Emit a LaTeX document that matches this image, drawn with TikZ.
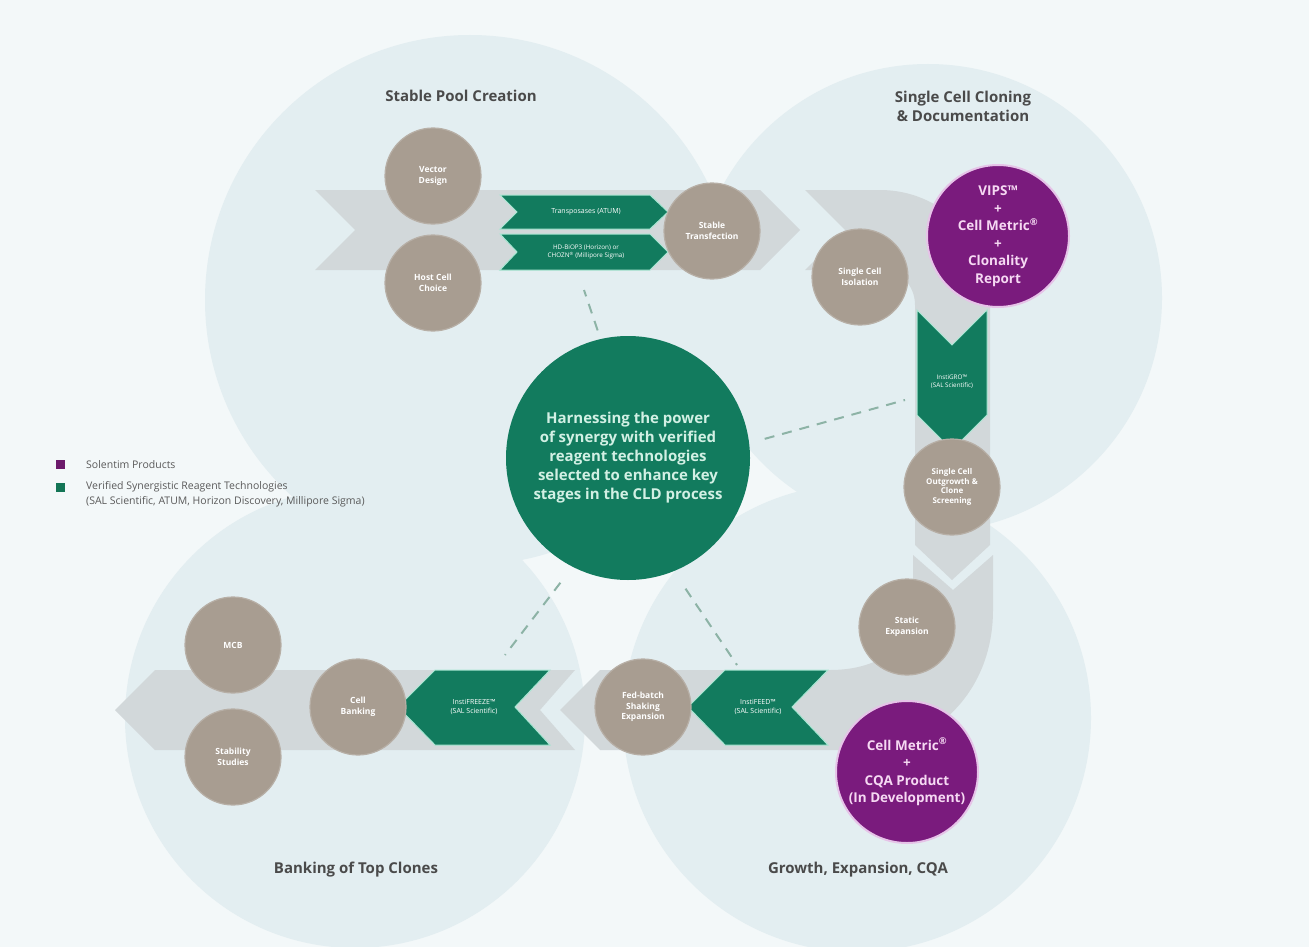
\documentclass[tikz,border=0pt]{standalone}
\usepackage{fontspec}
\setmainfont{Open Sans}
\usetikzlibrary{calc}

\definecolor{bgcol}{HTML}{F3F8F9}
\definecolor{zonecol}{HTML}{E3EEF1}
\definecolor{bandgray}{HTML}{D2D8DA}
\definecolor{taupe}{HTML}{A89D91}
\definecolor{taupeedge}{HTML}{B7AFA6}
\definecolor{reagentgreen}{HTML}{127B5E}
\definecolor{mint}{HTML}{A9E6D2}
\definecolor{purp}{HTML}{7A1B7D}
\definecolor{purpedge}{HTML}{E6C3E8}
\definecolor{pinktext}{HTML}{F6D9F3}
\definecolor{titlegray}{HTML}{4A4A4A}
\definecolor{legendgray}{HTML}{5A5A5A}
\definecolor{centretext}{HTML}{D2F0E4}
\definecolor{dashcol}{HTML}{8DB3A6}
\definecolor{legpurple}{HTML}{6B1A6B}
\definecolor{leggreen}{HTML}{137556}

\tikzset{
  zone/.style={fill=zonecol},
  band/.style={fill=bandgray},
  stepnode/.style={circle, fill=taupe, draw=taupeedge, line width=1.2pt,
    minimum size=96pt, inner sep=0pt, align=center, text=white,
    font=\fontsize{8.5}{10.5}\selectfont\bfseries},
  prodnode/.style={circle, fill=purp, draw=purpedge, line width=2pt,
    minimum size=142pt, inner sep=0pt, align=center, text=pinktext,
    font=\fontsize{13.5}{17.5}\selectfont\bfseries},
  reagent/.style={fill=reagentgreen, draw=mint, line width=1pt},
  reagtext/.style={text=white, font=\fontsize{7}{8.5}\selectfont,
    align=center, inner sep=0pt},
  zonetitle/.style={text=titlegray, font=\fontsize{15}{19}\selectfont\bfseries,
    align=center},
  legendtext/.style={text=legendgray, font=\fontsize{10.5}{15.5}\selectfont,
    align=left, anchor=west, inner sep=0pt},
  dashlink/.style={draw=dashcol, line width=2pt, dash pattern=on 10pt off 8pt}
}

\begin{document}
\begin{tikzpicture}[x=1pt, y=-1pt]
\useasboundingbox (0,0) rectangle (1309,947);
\fill[bgcol] (0,0) rectangle (1309,947);

% the four stage zones
\fill[zone] (470,300) circle[radius=265pt];
\fill[zone] (928,298) circle[radius=234pt];
\fill[zone] (355,718) circle[radius=230pt];
\fill[zone] (857,718) circle[radius=234pt];

% process bands
\fill[band] (315,190) -- (760,190) -- (800,230) -- (760,270) -- (315,270) -- (355,230) -- cycle;
\fill[band] (805,190) -- (880,190) .. controls (941,190) and (990,239) .. (990,300)
  -- (990,545) -- (952,580) -- (915,545) -- (915,305)
  .. controls (915,285) and (900,270) .. (880,270) -- (805,270) -- (845,230) -- cycle;
\fill[band] (913,555) -- (953,590) -- (993,555) -- (993,610)
  .. controls (993,695) and (930,750) .. (860,750) -- (600,750) -- (560,710) -- (600,670)
  -- (830,670) .. controls (880,670) and (913,645) .. (913,605) -- cycle;
\fill[band] (575,670) -- (155,670) -- (115,710) -- (155,750) -- (575,750) -- (540,710) -- cycle;

% zone titles
\node[zonetitle] (tPool) at (461,96) {Stable Pool Creation};
\node[zonetitle] (tClone) at (963,106) {Single Cell Cloning\\\& Documentation};
\node[zonetitle] (tBank) at (356,870) {Banking of Top Clones};
\node[zonetitle] (tGrow) at (858,870) {Growth, Expansion, CQA};

% reagent technologies (chevrons)
\path[reagent] (500,195) -- (650,195) -- (668,212) -- (650,229) -- (500,229) -- (517,212) -- cycle;
\node[reagtext] (rTrans) at (586,212) {Transposases (ATUM)};
\path[reagent] (500,234) -- (650,234) -- (668,252) -- (650,270) -- (500,270) -- (517,252) -- cycle;
\node[reagtext, font=\fontsize{6.3}{8}\selectfont] (rHost) at (586,252) {HD-BiOP3 (Horizon) or\\CHOZN\textsuperscript{®} (Millipore Sigma)};
\path[reagent] (917,310) -- (952,345) -- (987,310) -- (987,415) -- (952,450) -- (917,415) -- cycle;
\node[reagtext, font=\fontsize{6.3}{8}\selectfont] (rGro) at (952,382) {InstiGRO™\\(SAL Scientific)};
\path[reagent] (828,670) -- (725,670) -- (688,707) -- (725,745) -- (828,745) -- (792,707) -- cycle;
\node[reagtext] (rFeed) at (758,707) {InstiFEED™\\(SAL Scientific)};
\path[reagent] (550,670) -- (435,670) -- (398,707) -- (435,745) -- (550,745) -- (515,707) -- cycle;
\node[reagtext] (rFreeze) at (474,707) {InstiFREEZE™\\(SAL Scientific)};

% process steps
\node[stepnode] (vector) at (433,176) {Vector\\Design};
\node[stepnode] (host) at (433,283) {Host Cell\\Choice};
\node[stepnode] (transf) at (712,231) {Stable\\Transfection};
\node[stepnode] (isol) at (860,277) {Single Cell\\Isolation};
\node[stepnode, font=\fontsize{8}{9.8}\selectfont\bfseries] (outgr) at (952,487) {Single Cell\\Outgrowth \&\\Clone\\Screening};
\node[stepnode] (static) at (907,627) {Static\\Expansion};
\node[stepnode] (fedb) at (643,707) {Fed-batch\\Shaking\\Expansion};
\node[stepnode] (cbank) at (358,707) {Cell\\Banking};
\node[stepnode] (mcb) at (233,645) {MCB};
\node[stepnode] (stab) at (233,757) {Stability\\Studies};

% Solentim products
\node[prodnode] (vips) at (998,236) {VIPS™\\+\\Cell Metric\textsuperscript{®}\\+\\Clonality\\Report};
\node[prodnode] (cqa) at (907,772) {Cell Metric\textsuperscript{®}\\+\\CQA Product\\(In Development)};

% central statement
\node[circle, fill=reagentgreen, minimum size=244pt, inner sep=0pt, align=center,
  text=centretext, font=\fontsize{15}{19}\selectfont\bfseries] (ctr) at (628,458)
  {Harnessing the power\\of synergy with verified\\reagent technologies\\selected to enhance key\\stages in the CLD process};

% links from the statement towards the reagent stages
\coordinate (eTop) at (584,290);
\coordinate (eRight) at (905,400);
\coordinate (eLeft) at (505,655);
\coordinate (eBottom) at (737,665);
\draw[dashlink, shorten <=9pt] (ctr.103) -- (eTop);
\draw[dashlink, shorten <=16pt] (ctr.7.5) -- (eRight);
\draw[dashlink, shorten <=20pt] (ctr.243) -- (eLeft);
\draw[dashlink, shorten <=21pt] (ctr.292.6) -- (eBottom);

% legend
\fill[legpurple] (56,460) rectangle (65,469);
\node[legendtext] (lgSol) at (86,465) {Solentim Products};
\fill[leggreen] (56,483) rectangle (65,492);
\node[legendtext, anchor=north west] (lgVer) at (86,481) {Verified Synergistic Reagent Technologies\\(SAL Scientific, ATUM, Horizon Discovery, Millipore Sigma)};
\end{tikzpicture}
\end{document}
